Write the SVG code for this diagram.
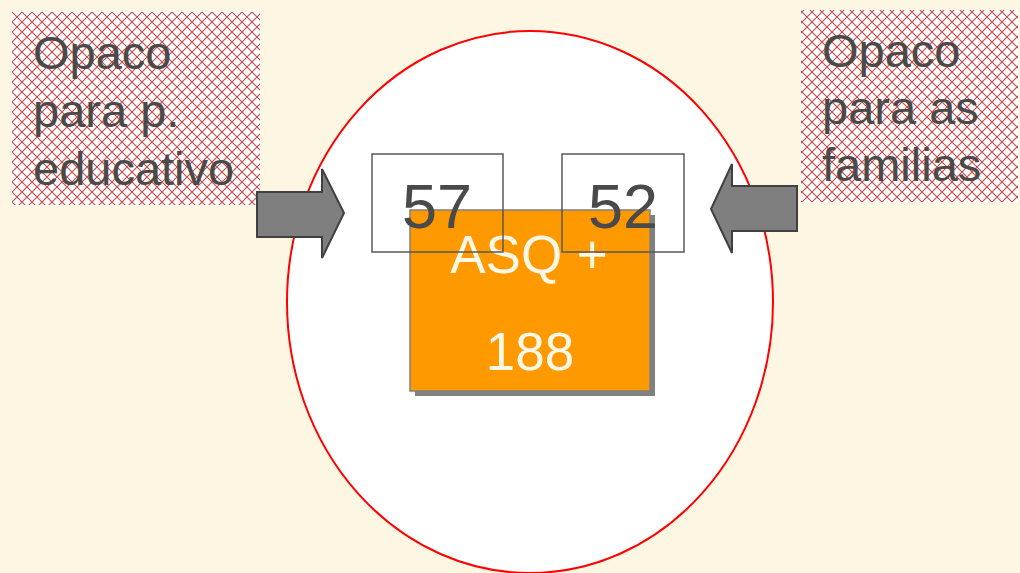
<svg xmlns="http://www.w3.org/2000/svg" width="1020" height="573" viewBox="0 0 1020 573">
<defs>
<pattern id="hatch" x="12" y="12" width="10" height="10" patternUnits="userSpaceOnUse">
<rect width="10" height="10" fill="#ffffff"/>
<path d="M0,0 L10,10 M10,0 L0,10" stroke="#c4484a" stroke-width="1.1" fill="none"/>
</pattern>
</defs>
<style>
.lbl{font-family:"Liberation Sans",Arial,sans-serif;font-size:47px;fill:#4a4a4a}
.num{font-family:"Liberation Sans",Arial,sans-serif;font-size:63px;fill:#4a4a4a;text-anchor:middle}
.asq{font-family:"Liberation Sans",Arial,sans-serif;font-size:53px;fill:#fff8e6;text-anchor:middle}
.box{fill:none;stroke:#595959;stroke-width:1.5}
.arrow{fill:#7f7f7f;stroke:#404040;stroke-width:2;stroke-linejoin:miter}
</style>
<rect width="1020" height="573" fill="#fdf6e2"/>
<g id="ellipse">
<ellipse cx="530" cy="302" rx="243" ry="271" fill="#ffffff" stroke="#ff0000" stroke-width="2"/>
</g>
<g id="opaco-educativo">
<rect x="12" y="12" width="248" height="193" fill="url(#hatch)"/>
<text class="lbl" x="33" y="69">Opaco</text>
<text class="lbl" x="33" y="127">para p.</text>
<text class="lbl" x="33" y="185">educativo</text>
</g>
<g id="opaco-familias">
<rect x="801" y="10" width="217" height="192" fill="url(#hatch)"/>
<text class="lbl" x="822" y="67">Opaco</text>
<text class="lbl" x="822" y="124">para as</text>
<text class="lbl" x="822" y="181">familias</text>
</g>
<g id="asq">
<rect x="415" y="215" width="240" height="181" fill="#808080"/>
<rect x="410" y="210" width="240" height="181" fill="#ff9900" stroke="#808080" stroke-width="1.5"/>
<text class="asq" x="529" y="273">ASQ +</text>
<text class="asq" x="530" y="370">188</text>
</g>
<g id="n57">
<rect class="box" x="372" y="154" width="131" height="98"/>
<text class="num" x="437" y="228">57</text>
</g>
<g id="n52">
<rect class="box" x="562" y="154" width="122" height="98"/>
<text class="num" x="623" y="228">52</text>
</g>
<g id="connectors">
<polygon class="arrow" points="257,192 322,192 322,169 344,213 322,258 322,237 257,237"/>
<polygon class="arrow" points="797,186 732,186 732,164 711,209 732,253 732,231 797,231"/>
</g>
</svg>
